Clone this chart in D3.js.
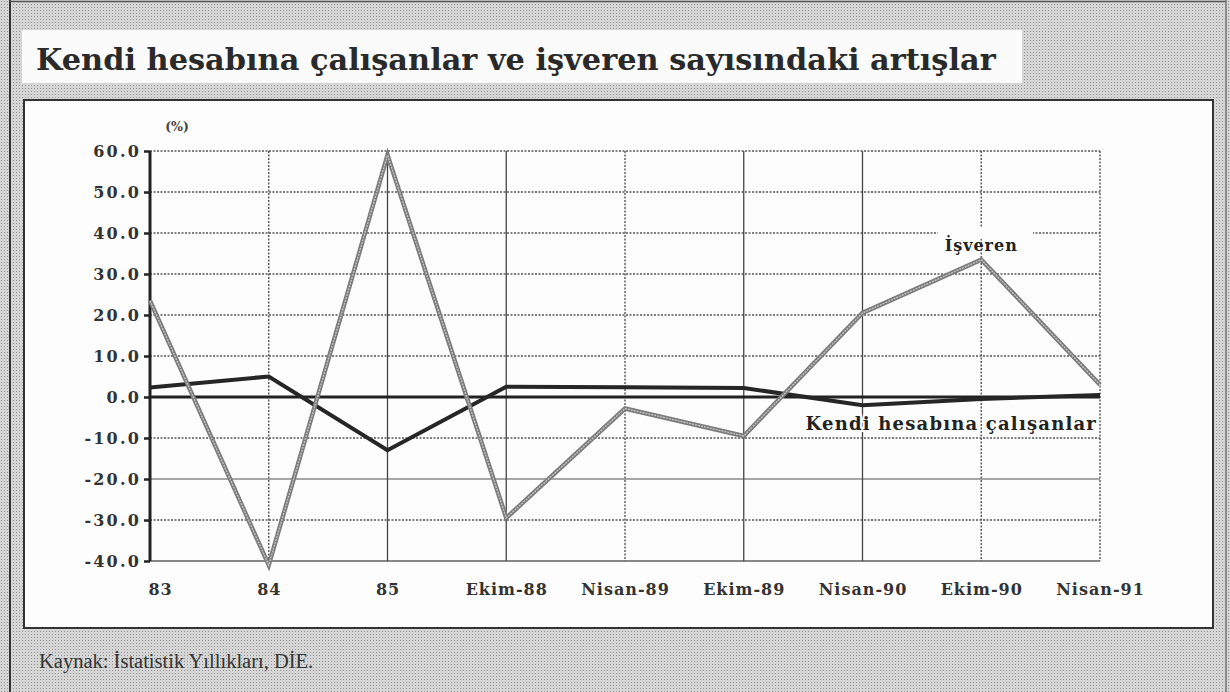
<!DOCTYPE html>
<html><head><meta charset="utf-8">
<script src="https://cdn.jsdelivr.net/npm/d3@7"></script>
<style>
html,body{margin:0;padding:0;background:#fff;}
svg{display:block;}
</style></head>
<body>
<script>
// ---- data ----
const categories = ["83","84","85","Ekim-88","Nisan-89","Ekim-89","Nisan-90","Ekim-90","Nisan-91"];
const isverenValues = [23.5, -41, 59, -29.5, -2.8, -9.5, 20.5, 33.5, 3];
const kendiValues = [2.3, 5, -13, 2.5, 2.4, 2.2, -2, -0.5, 0.5];
const yTicks = [60,50,40,30,20,10,0,-10,-20,-30,-40];
const yTickLabels = ["60.0","50.0","40.0","30.0","20.0","10.0","0.0","-10.0","-20.0","-30.0","-40.0"];
const titleText = "Kendi hesabına çalışanlar ve işveren sayısındaki artışlar";
const sourceText = "Kaynak: İstatistik Yıllıkları, DİE.";
const unitLabel = "(%)";
const isverenLabel = "İşveren";
const kendiLabel = "Kendi hesabına çalışanlar";

const W = 1230, H = 692;
const serif = "'DejaVu Serif','Liberation Serif',serif";
const serifReg = "'Liberation Serif','DejaVu Serif',serif";
const svg = d3.select("body").append("svg").attr("width", W).attr("height", H);

// halftone background
const defs = svg.append("defs");
const pat = defs.append("pattern").attr("id","ht").attr("width",3).attr("height",3).attr("patternUnits","userSpaceOnUse");
pat.append("rect").attr("width",3).attr("height",3).attr("fill","#d6d6d6");
pat.append("rect").attr("x",1).attr("y",1).attr("width",1).attr("height",1).attr("fill","#929292");
svg.append("rect").attr("width",W).attr("height",H).attr("fill","url(#ht)");

// outer borders
svg.append("line").attr("x1",10).attr("x2",10).attr("y1",0).attr("y2",H).attr("stroke","#333").attr("stroke-width",2);
svg.append("line").attr("x1",10).attr("x2",1226).attr("y1",1.5).attr("y2",1.5).attr("stroke","#555").attr("stroke-width",1.5);
svg.append("line").attr("x1",1226).attr("x2",1226).attr("y1",0).attr("y2",H).attr("stroke","#777").attr("stroke-width",1.5);

// title box
svg.append("rect").attr("x",22).attr("y",30).attr("width",1000).attr("height",53).attr("fill","#fbfbfb");
svg.append("text").attr("x",36).attr("y",70).attr("font-family",serif).attr("font-weight","bold")
  .attr("font-size",30.4).attr("fill","#2a2a2a").text(titleText);

// panel
svg.append("rect").attr("x",24).attr("y",100).attr("width",1189).attr("height",528)
  .attr("fill","#fdfdfd").attr("stroke","#333").attr("stroke-width",2);

// scales
const x = d3.scalePoint().domain(categories).range([150,1100]);
const y = d3.scaleLinear().domain([-40,60]).range([561,151]);

const g = svg.append("g");

// horizontal grid
const hStyle = v => v===0 ? null : (v===-20 ? {dash:null,c:"#8a8a8a",w:1.5} : (v===-40 ? {dash:null,c:"#888",w:1.8} : {dash:"2,1.5",c:"#555",w:1.4}));
yTicks.forEach(v => {
  const s = hStyle(v); if(!s) return;
  g.append("line").attr("x1",150).attr("x2",1100).attr("y1",y(v)).attr("y2",y(v))
    .attr("stroke",s.c).attr("stroke-width",s.w).attr("stroke-dasharray",s.dash);
});
// vertical grid
const solidV = {"85":1,"Ekim-88":1,"Ekim-89":1,"Nisan-90":1};
categories.slice(1).forEach(c => {
  const solid = solidV[c];
  g.append("line").attr("x1",x(c)).attr("x2",x(c)).attr("y1",y(60)).attr("y2",y(-40))
    .attr("stroke",solid?"#444":"#555").attr("stroke-width",solid?1.3:1.4)
    .attr("stroke-dasharray",solid?null:"2,1.5");
});

// isveren label
const isvG = svg.append("g");
isvG.append("rect").attr("x",938).attr("y",228).attr("width",95).attr("height",11).attr("fill","#fdfdfd");
isvG.append("text").attr("x",x("Ekim-90")).attr("y",251).attr("text-anchor","middle")
  .attr("font-family",serif).attr("font-weight","bold").attr("font-size",16).attr("letter-spacing",1)
  .attr("fill","#222").text(isverenLabel);

// zero line
g.append("line").attr("x1",150).attr("x2",1100).attr("y1",y(0)).attr("y2",y(0)).attr("stroke","#222").attr("stroke-width",3);

// y axis
const yAxis = d3.axisLeft(y).tickValues(yTicks).tickSize(6).tickPadding(3)
  .tickFormat((d,i) => yTickLabels[i]);
const ya = svg.append("g").attr("transform","translate(150,0)").call(yAxis);
ya.select(".domain").attr("stroke","#222").attr("stroke-width",3).attr("d","M0,"+y(60)+"V"+y(-40));
ya.selectAll(".tick line").attr("stroke","#222").attr("stroke-width",2.5);
ya.selectAll(".tick text").attr("font-family",serif).attr("font-weight","bold").attr("font-size",16)
  .attr("letter-spacing",2.2).attr("fill","#333");

// x axis
const xAxis = d3.axisBottom(x).tickSize(0).tickPadding(0);
const xa = svg.append("g").attr("transform","translate(0,582)").call(xAxis);
xa.select(".domain").remove();
xa.selectAll(".tick text").attr("font-family",serif).attr("font-weight","bold").attr("font-size",16)
  .attr("letter-spacing",1).attr("fill","#333").attr("dy","0").attr("y",13)
  .attr("dx",(d,i)=> i===0 ? 10 : 0);

// unit
svg.append("text").attr("x",177).attr("y",131).attr("text-anchor","middle").attr("font-family",serif)
  .attr("font-weight","bold").attr("font-size",12.5).attr("fill","#444").text(unitLabel);

// lines
const line = d3.line().x((d,i)=>x(categories[i])).y(d=>y(d));
svg.append("path").datum(kendiValues).attr("d",line).attr("fill","none").attr("stroke","#262626")
  .attr("stroke-width",4).attr("stroke-linejoin","miter");
svg.append("path").datum(isverenValues).attr("d",line).attr("fill","none").attr("stroke","#7a7a7a")
  .attr("stroke-width",4.5).attr("stroke-linejoin","miter");
svg.append("path").datum(isverenValues).attr("d",line).attr("fill","none").attr("stroke","#c4c4c4")
  .attr("stroke-width",1.4).attr("stroke-dasharray","2,1").attr("stroke-linejoin","miter");

// kendi label
svg.append("text").attr("x",1097).attr("y",430).attr("text-anchor","end").attr("font-family",serif)
  .attr("font-weight","bold").attr("font-size",18).attr("letter-spacing",1.2).attr("fill","#222")
  .attr("stroke","#fdfdfd").attr("stroke-width",4).attr("paint-order","stroke").text(kendiLabel);

// source
svg.append("text").attr("x",39).attr("y",668).attr("font-family",serifReg).attr("font-size",20.5)
  .attr("fill","#333").text(sourceText);
</script>
</body></html>
